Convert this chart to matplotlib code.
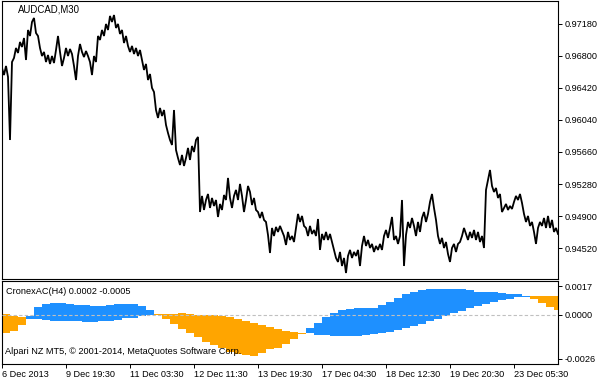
import numpy as np
import matplotlib
matplotlib.use("Agg")
import matplotlib.pyplot as plt

plt.rcParams['font.family'] = ['Liberation Sans', 'DejaVu Sans']

# ---------------- data ----------------
symbol_label = "AUDCAD,M30"
indicator_label = "CronexAC(H4) 0.0002 -0.0005"
copyright_label = "Alpari NZ MT5, \u00a9 2001-2014, MetaQuotes Software Corp."

# AUDCAD M30 closes, one sample every 2 M30 bars
close_prices = [
    0.96654, 0.96571, 0.96678, 0.96548, 0.95802, 0.96725, 0.96773, 0.96891, 0.96832, 0.96962,
    0.96903, 0.97009, 0.96749, 0.97104, 0.97033, 0.97199, 0.97246, 0.97068, 0.97033, 0.96891,
    0.96796, 0.96844, 0.96725, 0.96808, 0.96702, 0.96796, 0.96713, 0.96867, 0.97033, 0.96844,
    0.96678, 0.96773, 0.96891, 0.96796, 0.96879, 0.96820, 0.96678, 0.96512, 0.96796, 0.96938,
    0.96844, 0.96784, 0.96855, 0.96796, 0.96725, 0.96571, 0.96796, 0.96725, 0.97033, 0.96986,
    0.97104, 0.97033, 0.97175, 0.97104, 0.97270, 0.97199, 0.97281, 0.97128, 0.97175, 0.97057,
    0.97104, 0.96950, 0.97033, 0.96915, 0.96844, 0.96915, 0.96820, 0.96891, 0.96796, 0.96867,
    0.96749, 0.96631, 0.96702, 0.96512, 0.96583, 0.96418, 0.96370, 0.96157, 0.96063, 0.96181,
    0.96086, 0.96157, 0.95980, 0.95885, 0.95802, 0.95743, 0.96157, 0.95684, 0.95589, 0.95506,
    0.95625, 0.95495, 0.95589, 0.95708, 0.95566, 0.95731, 0.95660, 0.95802, 0.95838, 0.94950,
    0.95140, 0.94974, 0.95092, 0.95163, 0.94998, 0.95116, 0.95021, 0.95092, 0.94891, 0.95045,
    0.94974, 0.95151, 0.95092, 0.95353, 0.95116, 0.94998, 0.95140, 0.95211, 0.95092, 0.95282,
    0.95140, 0.94950, 0.95092, 0.95258, 0.95187, 0.95033, 0.95116, 0.94974, 0.94950, 0.94879,
    0.94950, 0.94856, 0.94832, 0.94678, 0.94465, 0.94761, 0.94666, 0.94773, 0.94714, 0.94785,
    0.94725, 0.94666, 0.94560, 0.94714, 0.94619, 0.94666, 0.94595, 0.94761, 0.94927, 0.94832,
    0.94903, 0.94785, 0.94761, 0.94666, 0.94785, 0.94690, 0.94737, 0.94666, 0.94867, 0.94501,
    0.94690, 0.94619, 0.94714, 0.94619, 0.94690, 0.94595, 0.94501, 0.94406, 0.94359, 0.94477,
    0.94311, 0.94406, 0.94228, 0.94430, 0.94501, 0.94406, 0.94477, 0.94430, 0.94501, 0.94311,
    0.94548, 0.94666, 0.94548, 0.94619, 0.94524, 0.94572, 0.94477, 0.94548, 0.94501, 0.94572,
    0.94501, 0.94666, 0.94737, 0.94643, 0.94761, 0.94891, 0.94619, 0.94666, 0.94572, 0.94666,
    0.95092, 0.94311, 0.94678, 0.94832, 0.94761, 0.94879, 0.94785, 0.94666, 0.94832, 0.94714,
    0.94879, 0.94950, 0.94832, 0.94927, 0.95069, 0.95163, 0.94998, 0.94856, 0.94666, 0.94572,
    0.94643, 0.94524, 0.94595, 0.94453, 0.94359, 0.94524, 0.94572, 0.94477, 0.94572, 0.94595,
    0.94666, 0.94761, 0.94690, 0.94619, 0.94714, 0.94643, 0.94737, 0.94619, 0.94714, 0.94595,
    0.94666, 0.94524, 0.95211, 0.95329, 0.95447, 0.95258, 0.95187, 0.95234, 0.95116, 0.95163,
    0.94950, 0.94998, 0.95045, 0.94974, 0.95021, 0.94986, 0.95069, 0.95140, 0.95092, 0.95163,
    0.95057, 0.94927, 0.94832, 0.94903, 0.94785, 0.94832, 0.94714, 0.94572, 0.94761, 0.94832,
    0.94785, 0.94879, 0.94761, 0.94903, 0.94761, 0.94856, 0.94714, 0.94761, 0.94690,
]
close_step = 2      # M30 bars between samples

# CronexAC on H4: fast and slow lines, one value per H4 bar
ac_fast = [
    -0.00105, -0.00095, -0.00059, -0.00004, 0.00045, 0.00065, 0.00069, 0.00071, 0.00067, 0.00061,
    0.00057, 0.00055, 0.00055, 0.00059, 0.00063, 0.00063, 0.00065, 0.00051, 0.00030, -0.00002,
    -0.00026, -0.00055, -0.00085, -0.00109, -0.00132, -0.00158, -0.00178, -0.00197, -0.00217, -0.00231,
    -0.00237, -0.00241, -0.00227, -0.00203, -0.00193, -0.00170, -0.00142, -0.00111, -0.00077, -0.00047,
    -0.00012, 0.00012, 0.00030, 0.00036, 0.00041, 0.00041, 0.00041, 0.00059, 0.00077, 0.00101,
    0.00124, 0.00136, 0.00148, 0.00154, 0.00154, 0.00154, 0.00154, 0.00154, 0.00148, 0.00136,
    0.00136, 0.00134, 0.00128, 0.00124, 0.00122, 0.00112, 0.00097, 0.00073, 0.00049, 0.00032,
]
ac_slow = [
    0.00004, -0.00004, -0.00014, -0.00024, -0.00026, -0.00030, -0.00034, -0.00034, -0.00034, -0.00036,
    -0.00039, -0.00039, -0.00038, -0.00034, -0.00030, -0.00020, -0.00016, -0.00006, 0.00000, 0.00006,
    0.00006, 0.00006, 0.00010, 0.00006, 0.00002, 0.00002, -0.00002, -0.00006, -0.00014, -0.00026,
    -0.00034, -0.00045, -0.00059, -0.00069, -0.00081, -0.00093, -0.00103, -0.00107, -0.00109, -0.00116,
    -0.00116, -0.00122, -0.00122, -0.00122, -0.00122, -0.00116, -0.00111, -0.00105, -0.00099, -0.00089,
    -0.00075, -0.00063, -0.00051, -0.00034, -0.00022, -0.00004, 0.00014, 0.00026, 0.00043, 0.00055,
    0.00067, 0.00079, 0.00091, 0.00097, 0.00105, 0.00109, 0.00114, 0.00114, 0.00114, 0.00114,
]
h4_span = 8         # M30 bars per H4 bar

time_tick_bars = [0, 64, 128, 192, 256, 320, 384, 448, 512]
time_tick_labels = ["6 Dec 2013", "9 Dec 19:30", "11 Dec 03:30", "12 Dec 11:30",
                    "13 Dec 19:30", "17 Dec 04:30", "18 Dec 12:30", "19 Dec 20:30",
                    "23 Dec 05:30"]
price_ticks = [0.97180, 0.96800, 0.96420, 0.96040, 0.95660, 0.95280, 0.94900, 0.94520]
ac_ticks = [0.0017, 0.0, -0.0026]
ac_tick_labels = ["0.0017", "0.0000", "-0.0026"]

# ---------------- layout ----------------
W, H = 608, 381
fig = plt.figure(figsize=(W / 100, H / 100), dpi=100)
fig.patch.set_facecolor("white")


def px_axes(x0, y0, x1, y1):
    return fig.add_axes([x0 / W, 1 - y1 / H, (x1 - x0) / W, (y1 - y0) / H])


ax = px_axes(2, 1, 558, 279)
ax2 = px_axes(2, 281, 558, 364)
n_bars = 556
fs = 6.6
BLUE = "#1E90FF"
ORANGE = "#FFA500"

# main price panel
xs = np.arange(len(close_prices)) * close_step
ax.plot(xs, close_prices, color="black", lw=1.3, solid_joinstyle="miter")
ax.set_xlim(0, n_bars)
ax.set_ylim(0.94157, 0.97447)
ax.set_xticks([])
ax.yaxis.tick_right()
ax.set_yticks(price_ticks)
ax.set_yticklabels([f"{v:.5f}" for v in price_ticks])
ax.tick_params(axis="y", direction="out", length=3, width=0.7, pad=1.5,
               labelsize=fs, colors="black")
ax.text(16 / n_bars, 1 - 8.5 / 278, symbol_label, transform=ax.transAxes,
        fontsize=6.9, ha="left", va="center", color="black")

# indicator panel
fast = np.array(ac_fast)
slow = np.array(ac_slow)
hx = np.arange(len(fast)) * h4_span
colors = [BLUE if f >= s else ORANGE for f, s in zip(fast, slow)]
ax2.bar(hx, fast - slow, bottom=slow, width=h4_span, align="edge",
        color=colors, linewidth=0, zorder=2)
ax2.axhline(0, color="#C0C0C0", lw=0.8, ls=(0, (3, 2)), zorder=3)
ax2.set_xlim(0, n_bars)
ax2.set_ylim(-0.0029, 0.00201)
ax2.yaxis.tick_right()
ax2.set_yticks(ac_ticks)
ax2.set_yticklabels(ac_tick_labels)
ax2.tick_params(axis="y", direction="out", length=3, width=0.7, pad=1.5,
                labelsize=fs, colors="black")
ax2.set_xticks(time_tick_bars)
ax2.set_xticklabels(time_tick_labels, ha="left")
ax2.tick_params(axis="x", direction="out", length=3, width=0.7, pad=1.5,
                labelsize=fs, colors="black")
ax2.text(4 / n_bars, (364 - 291.5) / 83, indicator_label, transform=ax2.transAxes,
         fontsize=fs, ha="left", va="center", color="black")
ax2.text(3 / n_bars, (364 - 352) / 83, copyright_label, transform=ax2.transAxes,
         fontsize=fs, ha="left", va="center", color="black")

for a in (ax, ax2):
    for sp in a.spines.values():
        sp.set_color("black")
        sp.set_linewidth(0.8)

fig.savefig("out.png", dpi=100, facecolor="white")
